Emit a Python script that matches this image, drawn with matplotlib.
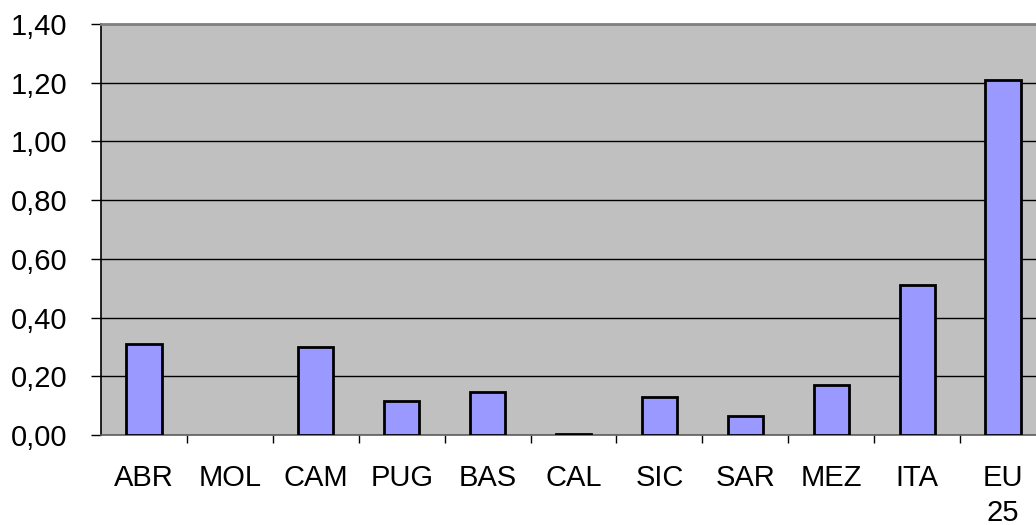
import matplotlib
matplotlib.use("Agg")
import matplotlib.pyplot as plt
import numpy as np

categories = ["ABR", "MOL", "CAM", "PUG", "BAS", "CAL", "SIC", "SAR", "MEZ", "ITA", "EU\n25"]
values = [0.31, 0.0, 0.30, 0.115, 0.145, 0.005, 0.13, 0.065, 0.17, 0.51, 1.21]
yticks = [0.0, 0.2, 0.4, 0.6, 0.8, 1.0, 1.2, 1.4]
ytick_labels = ["0,00", "0,20", "0,40", "0,60", "0,80", "1,00", "1,20", "1,40"]

plt.rcParams['font.family'] = ['Liberation Sans', 'DejaVu Sans']

W, H = 1036, 525
fig = plt.figure(figsize=(W / 100, H / 100), dpi=100)
left, right, top, bottom = 101, 1046, 24, 435
ax = fig.add_axes([left / W, 1 - bottom / H, (right - left) / W, (bottom - top) / H])
ax.set_facecolor("#C0C0C0")

x = np.arange(len(categories))
edge_widths = [2.0 if v > 0 else 0 for v in values]
ax.bar(x, values, width=0.41, color="#9999FF", edgecolor="black", linewidth=edge_widths, zorder=3)

ax.set_xlim(-0.5, len(categories) - 0.5)
ax.set_ylim(0, 1.4)
ax.set_yticks(yticks)
ax.set_yticklabels(ytick_labels)
ax.yaxis.grid(True, color="black", linewidth=1.0, zorder=1)
ax.set_axisbelow(True)

ax.set_xticks(x)
ax.set_xticklabels(categories)
ax.set_xticks(np.arange(len(categories)) + 0.5, minor=True)
ax.tick_params(axis="x", which="major", length=0, pad=21, labelsize=21)
ax.tick_params(axis="x", which="minor", length=6, width=1, color="black")
ax.tick_params(axis="y", length=7, width=1, pad=17, labelsize=21, color="black")
for lbl in ax.get_xticklabels():
    lbl.set_verticalalignment("top")
    lbl.set_linespacing(1.3)

ax.spines["left"].set_color("black")
ax.spines["left"].set_linewidth(1.2)
ax.spines["bottom"].set_color("#606060")
ax.spines["bottom"].set_linewidth(1.2)
ax.spines["top"].set_color("#808080")
ax.spines["top"].set_linewidth(2)
ax.spines["right"].set_visible(False)

fig.savefig("out.png", dpi=100, facecolor="white")
